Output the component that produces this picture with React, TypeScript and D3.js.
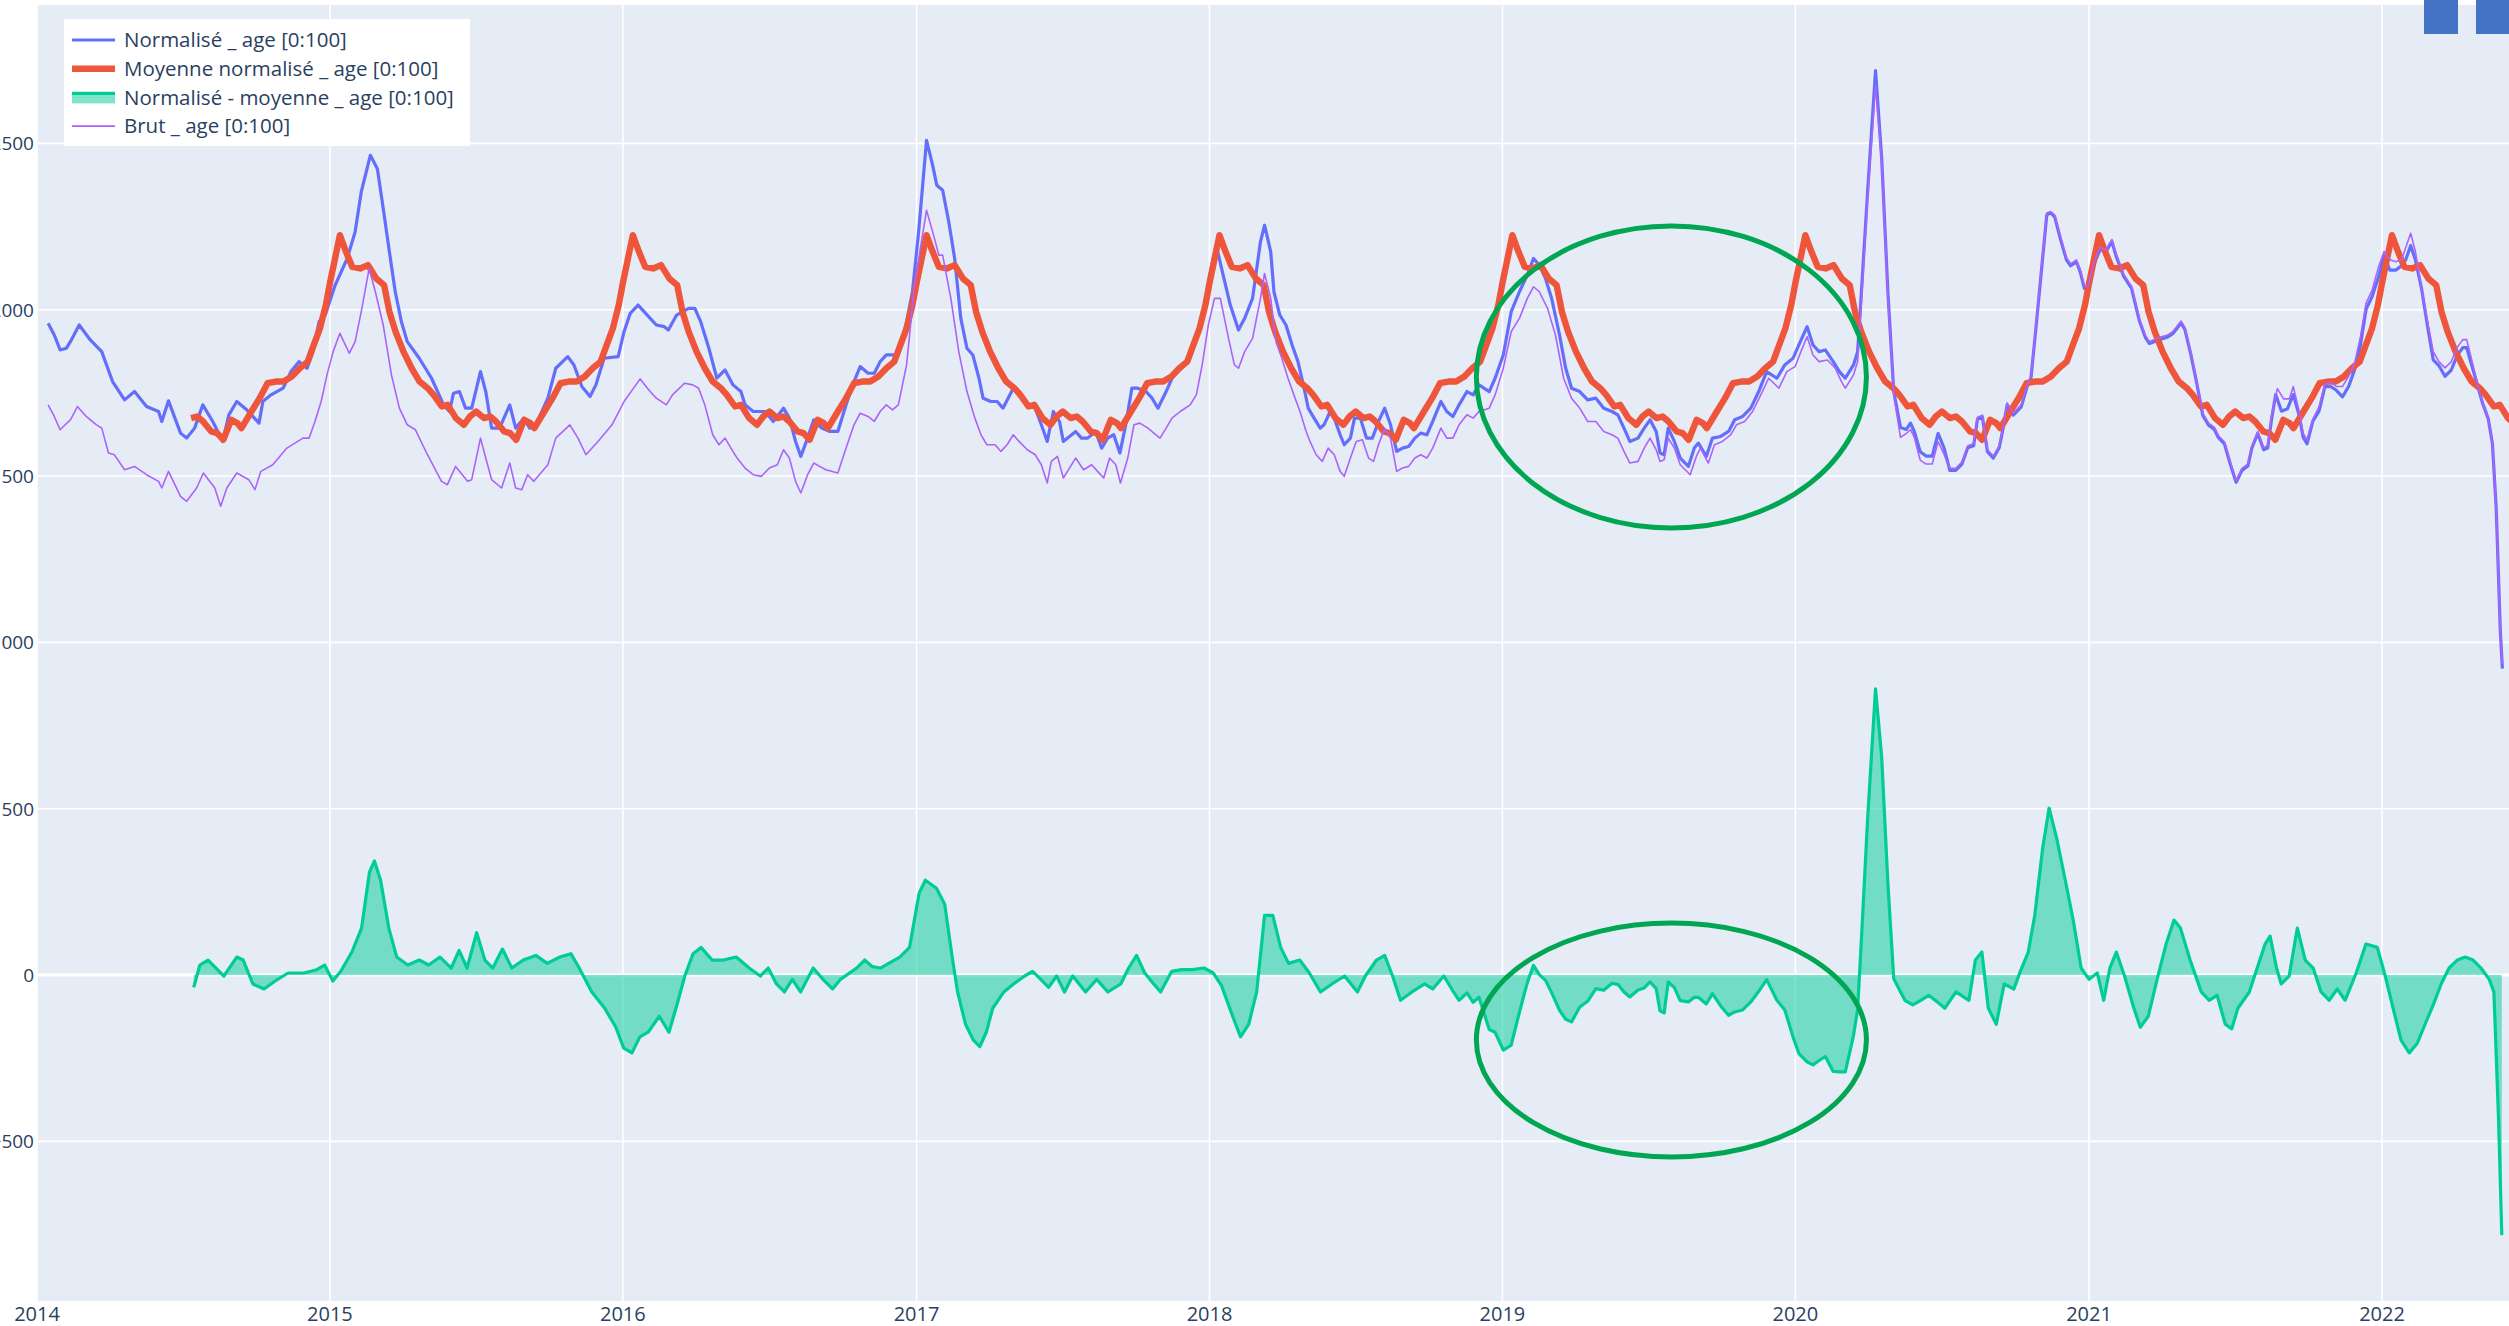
import React, { useEffect, useRef } from "react";
import * as d3 from "d3";

type Pt = [number, number]; // [decimal year, value]

const normalise: Pt[] = [
  [2014.038, 1959], [2014.059, 1924], [2014.079, 1879], [2014.1, 1884], [2014.114, 1904], [2014.144, 1954],
  [2014.182, 1909], [2014.221, 1874], [2014.258, 1784], [2014.299, 1729], [2014.333, 1754], [2014.374, 1709],
  [2014.415, 1694], [2014.426, 1664], [2014.449, 1726], [2014.49, 1629], [2014.511, 1614], [2014.538, 1644],
  [2014.566, 1714], [2014.6, 1664], [2014.634, 1604], [2014.655, 1684], [2014.682, 1724], [2014.716, 1699],
  [2014.758, 1659], [2014.771, 1724], [2014.799, 1744], [2014.84, 1764], [2014.867, 1814], [2014.895, 1844],
  [2014.922, 1824], [2014.942, 1874], [2014.963, 1964], [2014.984, 1984], [2015.018, 2074], [2015.059, 2154],
  [2015.086, 2234], [2015.107, 2354], [2015.138, 2464], [2015.162, 2424], [2015.182, 2304], [2015.203, 2174],
  [2015.223, 2054], [2015.244, 1964], [2015.264, 1904], [2015.305, 1854], [2015.347, 1794], [2015.388, 1714],
  [2015.408, 1694], [2015.422, 1749], [2015.442, 1754], [2015.463, 1704], [2015.484, 1704], [2015.514, 1814],
  [2015.532, 1754], [2015.552, 1644], [2015.579, 1644], [2015.614, 1714], [2015.634, 1644], [2015.662, 1674],
  [2015.682, 1644], [2015.703, 1654], [2015.744, 1734], [2015.771, 1824], [2015.812, 1859], [2015.833, 1834],
  [2015.86, 1769], [2015.888, 1739], [2015.908, 1774], [2015.936, 1854], [2015.984, 1859], [2016.004, 1934],
  [2016.025, 1989], [2016.052, 2014], [2016.087, 1980], [2016.114, 1954], [2016.141, 1949], [2016.155, 1939],
  [2016.183, 1984], [2016.224, 2004], [2016.245, 2004], [2016.265, 1964], [2016.293, 1884], [2016.32, 1794],
  [2016.348, 1819], [2016.375, 1774], [2016.402, 1754], [2016.416, 1714], [2016.444, 1694], [2016.485, 1694],
  [2016.512, 1664], [2016.547, 1704], [2016.567, 1674], [2016.588, 1604], [2016.606, 1559], [2016.629, 1614],
  [2016.65, 1669], [2016.677, 1644], [2016.705, 1634], [2016.732, 1634], [2016.76, 1714], [2016.787, 1784],
  [2016.808, 1829], [2016.835, 1809], [2016.856, 1809], [2016.876, 1844], [2016.897, 1864], [2016.938, 1864],
  [2016.966, 1964], [2016.986, 2054], [2017.007, 2234], [2017.034, 2509], [2017.055, 2434], [2017.069, 2374],
  [2017.089, 2359], [2017.11, 2264], [2017.13, 2154], [2017.151, 1974], [2017.172, 1884], [2017.192, 1864],
  [2017.213, 1794], [2017.227, 1734], [2017.254, 1724], [2017.275, 1724], [2017.295, 1704], [2017.33, 1764],
  [2017.35, 1754], [2017.378, 1719], [2017.405, 1704], [2017.426, 1654], [2017.446, 1604], [2017.467, 1694],
  [2017.488, 1664], [2017.501, 1604], [2017.543, 1634], [2017.563, 1614], [2017.584, 1614], [2017.611, 1634],
  [2017.632, 1584], [2017.652, 1614], [2017.673, 1624], [2017.694, 1569], [2017.714, 1654], [2017.735, 1764],
  [2017.755, 1764], [2017.783, 1754], [2017.804, 1734], [2017.824, 1704], [2017.852, 1754], [2017.872, 1794],
  [2017.913, 1834], [2017.934, 1864], [2017.955, 1914], [2017.982, 1994], [2018.003, 2114], [2018.023, 2194],
  [2018.044, 2114], [2018.071, 2014], [2018.099, 1939], [2018.12, 1974], [2018.147, 2034], [2018.174, 2204],
  [2018.188, 2254], [2018.209, 2174], [2018.22, 2054], [2018.24, 1984], [2018.261, 1954], [2018.282, 1894],
  [2018.302, 1844], [2018.323, 1764], [2018.337, 1704], [2018.357, 1674], [2018.378, 1644], [2018.391, 1654],
  [2018.412, 1694], [2018.426, 1674], [2018.446, 1624], [2018.46, 1594], [2018.481, 1614], [2018.495, 1674],
  [2018.515, 1674], [2018.536, 1614], [2018.556, 1614], [2018.577, 1664], [2018.598, 1704], [2018.618, 1654],
  [2018.639, 1574], [2018.659, 1584], [2018.68, 1589], [2018.701, 1614], [2018.721, 1629], [2018.742, 1624],
  [2018.762, 1664], [2018.79, 1724], [2018.81, 1694], [2018.831, 1679], [2018.852, 1714], [2018.879, 1754],
  [2018.9, 1744], [2018.92, 1774], [2018.955, 1754], [2018.975, 1794], [2019.003, 1864], [2019.03, 1994],
  [2019.058, 2054], [2019.085, 2104], [2019.106, 2154], [2019.126, 2134], [2019.147, 2094], [2019.168, 2034],
  [2019.195, 1924], [2019.216, 1824], [2019.236, 1764], [2019.264, 1754], [2019.291, 1729], [2019.319, 1734],
  [2019.346, 1704], [2019.374, 1694], [2019.394, 1684], [2019.415, 1644], [2019.435, 1604], [2019.463, 1614],
  [2019.484, 1644], [2019.504, 1669], [2019.525, 1634], [2019.538, 1569], [2019.552, 1564], [2019.566, 1644],
  [2019.587, 1604], [2019.607, 1554], [2019.635, 1529], [2019.655, 1584], [2019.669, 1599], [2019.696, 1559],
  [2019.717, 1614], [2019.745, 1619], [2019.772, 1634], [2019.793, 1669], [2019.82, 1679], [2019.848, 1704],
  [2019.875, 1754], [2019.902, 1814], [2019.937, 1794], [2019.964, 1834], [2019.992, 1854], [2020.012, 1894],
  [2020.04, 1949], [2020.06, 1894], [2020.081, 1874], [2020.102, 1879], [2020.129, 1844], [2020.15, 1814],
  [2020.17, 1794], [2020.198, 1834], [2020.212, 1874], [2020.225, 2054], [2020.246, 2354], [2020.273, 2719],
  [2020.294, 2454], [2020.315, 2054], [2020.335, 1754], [2020.358, 1646], [2020.378, 1640], [2020.392, 1659],
  [2020.405, 1634], [2020.425, 1573], [2020.445, 1560], [2020.466, 1560], [2020.486, 1628], [2020.506, 1585],
  [2020.526, 1517], [2020.546, 1517], [2020.567, 1536], [2020.587, 1585], [2020.607, 1591], [2020.62, 1671],
  [2020.637, 1677], [2020.654, 1573], [2020.674, 1554], [2020.694, 1585], [2020.708, 1646], [2020.721, 1714],
  [2020.742, 1683], [2020.769, 1708], [2020.789, 1769], [2020.802, 1794], [2020.816, 1917], [2020.836, 2101],
  [2020.856, 2285], [2020.869, 2291], [2020.883, 2279], [2020.903, 2211], [2020.923, 2150], [2020.937, 2132],
  [2020.957, 2144], [2020.97, 2113], [2020.984, 2064], [2020.997, 2064], [2021.017, 2138], [2021.038, 2181],
  [2021.058, 2175], [2021.078, 2205], [2021.092, 2162], [2021.118, 2101], [2021.145, 2064], [2021.172, 1966],
  [2021.192, 1917], [2021.206, 1898], [2021.24, 1910], [2021.266, 1917], [2021.287, 1929], [2021.314, 1960],
  [2021.327, 1941], [2021.347, 1867], [2021.367, 1782], [2021.388, 1683], [2021.408, 1653], [2021.428, 1640],
  [2021.441, 1616], [2021.462, 1597], [2021.482, 1536], [2021.502, 1481], [2021.522, 1517], [2021.542, 1530],
  [2021.556, 1585], [2021.576, 1628], [2021.596, 1579], [2021.61, 1585], [2021.623, 1671], [2021.637, 1745],
  [2021.657, 1695], [2021.677, 1702], [2021.697, 1745], [2021.717, 1683], [2021.731, 1616], [2021.744, 1597],
  [2021.764, 1665], [2021.785, 1695], [2021.805, 1769], [2021.825, 1769], [2021.845, 1757], [2021.865, 1738],
  [2021.886, 1769], [2021.906, 1818], [2021.926, 1892], [2021.946, 2003], [2021.966, 2039], [2021.987, 2095],
  [2022.007, 2162], [2022.027, 2119], [2022.047, 2119], [2022.067, 2132], [2022.081, 2150], [2022.098, 2193],
  [2022.114, 2150], [2022.135, 2064], [2022.155, 1953], [2022.175, 1849], [2022.195, 1831], [2022.215, 1800],
  [2022.236, 1818], [2022.256, 1861], [2022.276, 1886], [2022.289, 1886], [2022.303, 1843], [2022.323, 1782],
  [2022.343, 1720], [2022.363, 1671], [2022.377, 1597], [2022.39, 1401], [2022.404, 1033], [2022.411, 921],
];

const brut: Pt[] = [
  [2014.038, 1714], [2014.059, 1679], [2014.079, 1639], [2014.09, 1649], [2014.114, 1669], [2014.138, 1709],
  [2014.168, 1679], [2014.203, 1654], [2014.221, 1644], [2014.244, 1569], [2014.264, 1564], [2014.299, 1519],
  [2014.333, 1529], [2014.374, 1504], [2014.415, 1484], [2014.426, 1464], [2014.449, 1514], [2014.49, 1439],
  [2014.511, 1424], [2014.545, 1464], [2014.568, 1509], [2014.607, 1464], [2014.627, 1409], [2014.648, 1464],
  [2014.682, 1509], [2014.723, 1489], [2014.744, 1459], [2014.764, 1514], [2014.805, 1534], [2014.853, 1584],
  [2014.908, 1614], [2014.929, 1614], [2014.949, 1664], [2014.97, 1724], [2014.99, 1804], [2015.011, 1874],
  [2015.034, 1929], [2015.066, 1869], [2015.086, 1904], [2015.107, 1994], [2015.134, 2124], [2015.155, 2054],
  [2015.182, 1954], [2015.21, 1804], [2015.237, 1704], [2015.264, 1654], [2015.292, 1639], [2015.333, 1564],
  [2015.381, 1484], [2015.401, 1474], [2015.429, 1529], [2015.47, 1484], [2015.484, 1489], [2015.514, 1614],
  [2015.532, 1554], [2015.552, 1489], [2015.586, 1464], [2015.614, 1539], [2015.634, 1464], [2015.655, 1459],
  [2015.675, 1504], [2015.696, 1484], [2015.744, 1534], [2015.771, 1614], [2015.819, 1654], [2015.847, 1614],
  [2015.874, 1564], [2015.915, 1604], [2015.963, 1654], [2016.004, 1724], [2016.059, 1792], [2016.087, 1760],
  [2016.114, 1734], [2016.148, 1714], [2016.169, 1744], [2016.21, 1779], [2016.238, 1774], [2016.258, 1764],
  [2016.279, 1714], [2016.306, 1624], [2016.327, 1594], [2016.348, 1614], [2016.368, 1584], [2016.389, 1554],
  [2016.416, 1524], [2016.444, 1504], [2016.471, 1499], [2016.499, 1524], [2016.526, 1534], [2016.547, 1579],
  [2016.567, 1554], [2016.588, 1484], [2016.606, 1449], [2016.629, 1504], [2016.65, 1539], [2016.67, 1529],
  [2016.691, 1519], [2016.732, 1509], [2016.76, 1584], [2016.787, 1654], [2016.808, 1689], [2016.835, 1679],
  [2016.856, 1664], [2016.876, 1694], [2016.897, 1714], [2016.918, 1699], [2016.938, 1714], [2016.966, 1834],
  [2016.993, 2074], [2017.034, 2299], [2017.055, 2234], [2017.076, 2164], [2017.089, 2164], [2017.117, 2034],
  [2017.144, 1874], [2017.172, 1754], [2017.199, 1674], [2017.22, 1624], [2017.24, 1594], [2017.268, 1594],
  [2017.288, 1574], [2017.309, 1594], [2017.33, 1624], [2017.35, 1604], [2017.378, 1579], [2017.405, 1564],
  [2017.426, 1534], [2017.446, 1479], [2017.46, 1544], [2017.481, 1559], [2017.501, 1494], [2017.522, 1524],
  [2017.543, 1554], [2017.57, 1519], [2017.598, 1534], [2017.618, 1514], [2017.639, 1494], [2017.659, 1554],
  [2017.68, 1534], [2017.696, 1479], [2017.721, 1554], [2017.742, 1654], [2017.762, 1659], [2017.79, 1644],
  [2017.81, 1629], [2017.831, 1614], [2017.852, 1644], [2017.872, 1674], [2017.9, 1694], [2017.934, 1714],
  [2017.955, 1744], [2017.975, 1834], [2017.996, 1954], [2018.017, 2034], [2018.037, 2034], [2018.065, 1914],
  [2018.085, 1834], [2018.099, 1824], [2018.12, 1874], [2018.147, 1914], [2018.174, 2034], [2018.188, 2109],
  [2018.209, 2034], [2018.227, 1904], [2018.247, 1854], [2018.268, 1794], [2018.288, 1744], [2018.309, 1694],
  [2018.33, 1634], [2018.343, 1604], [2018.364, 1564], [2018.385, 1544], [2018.405, 1584], [2018.426, 1564],
  [2018.446, 1514], [2018.46, 1499], [2018.481, 1554], [2018.501, 1604], [2018.522, 1609], [2018.543, 1554],
  [2018.56, 1544], [2018.577, 1594], [2018.598, 1644], [2018.618, 1614], [2018.639, 1514], [2018.659, 1524],
  [2018.68, 1529], [2018.701, 1554], [2018.721, 1564], [2018.742, 1554], [2018.762, 1584], [2018.79, 1644],
  [2018.81, 1614], [2018.831, 1614], [2018.852, 1654], [2018.879, 1684], [2018.9, 1674], [2018.92, 1694],
  [2018.955, 1704], [2018.975, 1744], [2019.003, 1824], [2019.03, 1934], [2019.058, 1974], [2019.085, 2034],
  [2019.106, 2069], [2019.126, 2054], [2019.154, 2004], [2019.181, 1924], [2019.209, 1794], [2019.236, 1734],
  [2019.264, 1704], [2019.291, 1664], [2019.319, 1664], [2019.346, 1634], [2019.374, 1624], [2019.394, 1614],
  [2019.415, 1574], [2019.435, 1539], [2019.463, 1544], [2019.484, 1584], [2019.504, 1614], [2019.525, 1579],
  [2019.538, 1544], [2019.552, 1549], [2019.566, 1614], [2019.587, 1584], [2019.607, 1534], [2019.641, 1504],
  [2019.662, 1559], [2019.676, 1584], [2019.703, 1539], [2019.724, 1594], [2019.751, 1604], [2019.779, 1624],
  [2019.799, 1654], [2019.827, 1664], [2019.854, 1694], [2019.882, 1744], [2019.909, 1794], [2019.944, 1764],
  [2019.971, 1814], [2019.999, 1829], [2020.019, 1874], [2020.04, 1919], [2020.06, 1864], [2020.081, 1844],
  [2020.109, 1849], [2020.136, 1824], [2020.157, 1784], [2020.17, 1764], [2020.198, 1804], [2020.212, 1844],
  [2020.225, 2024], [2020.246, 2334], [2020.273, 2674], [2020.294, 2444], [2020.315, 2044], [2020.335, 1744],
  [2020.358, 1616], [2020.378, 1628], [2020.392, 1640], [2020.405, 1616], [2020.425, 1548], [2020.445, 1536],
  [2020.466, 1536], [2020.486, 1603], [2020.506, 1566], [2020.526, 1523], [2020.546, 1523], [2020.567, 1542],
  [2020.587, 1591], [2020.607, 1597], [2020.62, 1677], [2020.637, 1683], [2020.654, 1579], [2020.674, 1560],
  [2020.694, 1591], [2020.708, 1652], [2020.721, 1720], [2020.742, 1689], [2020.769, 1714], [2020.789, 1775],
  [2020.802, 1800], [2020.816, 1923], [2020.836, 2107], [2020.856, 2291], [2020.869, 2295], [2020.883, 2285],
  [2020.903, 2218], [2020.923, 2156], [2020.937, 2138], [2020.957, 2150], [2020.97, 2119], [2020.984, 2070],
  [2020.997, 2070], [2021.017, 2144], [2021.038, 2187], [2021.058, 2181], [2021.078, 2211], [2021.092, 2168],
  [2021.118, 2107], [2021.145, 2070], [2021.172, 1972], [2021.192, 1923], [2021.206, 1904], [2021.24, 1917],
  [2021.266, 1923], [2021.287, 1935], [2021.314, 1966], [2021.327, 1947], [2021.347, 1874], [2021.367, 1788],
  [2021.388, 1689], [2021.408, 1659], [2021.428, 1646], [2021.441, 1622], [2021.462, 1603], [2021.482, 1542],
  [2021.502, 1487], [2021.522, 1523], [2021.542, 1536], [2021.556, 1591], [2021.576, 1634], [2021.596, 1585],
  [2021.61, 1591], [2021.623, 1683], [2021.643, 1763], [2021.664, 1732], [2021.684, 1732], [2021.697, 1769],
  [2021.717, 1695], [2021.731, 1628], [2021.744, 1609], [2021.764, 1671], [2021.785, 1708], [2021.805, 1775],
  [2021.825, 1782], [2021.845, 1769], [2021.865, 1769], [2021.886, 1800], [2021.906, 1837], [2021.926, 1917],
  [2021.946, 2021], [2021.966, 2058], [2021.987, 2125], [2022.007, 2175], [2022.027, 2150], [2022.047, 2144],
  [2022.067, 2150], [2022.081, 2187], [2022.098, 2230], [2022.114, 2175], [2022.135, 2064], [2022.155, 1966],
  [2022.175, 1874], [2022.195, 1843], [2022.215, 1825], [2022.236, 1843], [2022.256, 1886], [2022.276, 1910],
  [2022.289, 1910], [2022.303, 1861], [2022.323, 1788], [2022.343, 1720], [2022.363, 1671], [2022.377, 1597],
  [2022.39, 1401], [2022.404, 1033], [2022.411, 934],
];

// weekly mean over one year: [fraction of year, value]
const moyenneProfile: Pt[] = [
  [0, 2080], [0.034, 2224], [0.055, 2174], [0.076, 2129], [0.103, 2124], [0.13, 2134], [0.158, 2094],
  [0.185, 2074], [0.203, 1994], [0.224, 1934], [0.251, 1874], [0.279, 1824], [0.306, 1784], [0.334, 1764],
  [0.354, 1744], [0.382, 1709], [0.402, 1714], [0.43, 1674], [0.457, 1654], [0.478, 1679], [0.499, 1694],
  [0.526, 1674], [0.547, 1679], [0.567, 1664], [0.595, 1634], [0.615, 1629], [0.636, 1609], [0.663, 1669],
  [0.684, 1659], [0.698, 1644], [0.732, 1694], [0.76, 1734], [0.787, 1779], [0.815, 1784], [0.842, 1784],
  [0.87, 1799], [0.897, 1824], [0.924, 1844], [0.945, 1894], [0.966, 1944], [0.986, 2014],
];
const moyenneStart = 2014.52;
const moyenneEnd = 2022.6;

const ecart: Pt[] = [
  [2014.535, -37], [2014.556, 30], [2014.584, 45], [2014.611, 21], [2014.638, -3], [2014.682, 54],
  [2014.704, 45], [2014.737, -27], [2014.775, -42], [2014.813, -18], [2014.857, 6], [2014.911, 6],
  [2014.955, 16], [2014.982, 30], [2015.01, -18], [2015.037, 11], [2015.075, 69], [2015.108, 141],
  [2015.135, 309], [2015.152, 343], [2015.173, 285], [2015.201, 141], [2015.228, 54], [2015.266, 30],
  [2015.305, 45], [2015.337, 30], [2015.376, 54], [2015.414, 21], [2015.441, 74], [2015.468, 21],
  [2015.501, 127], [2015.529, 45], [2015.556, 21], [2015.589, 78], [2015.621, 21], [2015.66, 45],
  [2015.703, 59], [2015.742, 35], [2015.785, 54], [2015.823, 64], [2015.851, 21], [2015.894, -51],
  [2015.938, -100], [2015.976, -157], [2016.003, -220], [2016.031, -234], [2016.058, -186], [2016.086, -172],
  [2016.124, -124], [2016.157, -172], [2016.184, -90], [2016.211, -3], [2016.239, 64], [2016.266, 83],
  [2016.304, 45], [2016.342, 45], [2016.386, 54], [2016.43, 21], [2016.468, -3], [2016.495, 21],
  [2016.523, -27], [2016.55, -51], [2016.577, -13], [2016.605, -51], [2016.648, 21], [2016.681, -13],
  [2016.714, -42], [2016.741, -13], [2016.796, 21], [2016.823, 45], [2016.85, 25], [2016.877, 21],
  [2016.905, 35], [2016.943, 54], [2016.976, 83], [2017.009, 247], [2017.03, 285], [2017.068, 261],
  [2017.096, 213], [2017.123, 45], [2017.14, -51], [2017.167, -148], [2017.194, -196], [2017.216, -215],
  [2017.238, -172], [2017.26, -100], [2017.298, -51], [2017.331, -27], [2017.369, -3], [2017.396, 11],
  [2017.424, -13], [2017.451, -37], [2017.478, -3], [2017.505, -51], [2017.533, -3], [2017.577, -51],
  [2017.615, -13], [2017.653, -51], [2017.697, -27], [2017.724, 21], [2017.751, 59], [2017.779, 6],
  [2017.806, -23], [2017.833, -51], [2017.871, 11], [2017.904, 16], [2017.942, 16], [2017.981, 21],
  [2018.013, 6], [2018.041, -32], [2018.079, -124], [2018.106, -186], [2018.134, -148], [2018.161, -51],
  [2018.188, 179], [2018.216, 179], [2018.243, 83], [2018.27, 35], [2018.308, 45], [2018.341, 6],
  [2018.379, -51], [2018.418, -27], [2018.461, -3], [2018.505, -51], [2018.532, -3], [2018.57, 45],
  [2018.598, 59], [2018.625, -3], [2018.652, -76], [2018.691, -51], [2018.734, -27], [2018.762, -42],
  [2018.8, -3], [2018.833, -51], [2018.852, -76], [2018.879, -54], [2018.9, -82], [2018.92, -67],
  [2018.955, -164], [2018.975, -172], [2019.003, -226], [2019.03, -211], [2019.058, -112], [2019.085, -23],
  [2019.106, 29], [2019.126, 1], [2019.147, -16], [2019.168, -53], [2019.195, -106], [2019.216, -133],
  [2019.236, -141], [2019.264, -96], [2019.291, -79], [2019.319, -41], [2019.346, -46], [2019.374, -25],
  [2019.394, -28], [2019.415, -51], [2019.435, -66], [2019.463, -45], [2019.484, -39], [2019.504, -21],
  [2019.525, -41], [2019.538, -108], [2019.552, -114], [2019.566, -21], [2019.587, -38], [2019.607, -77],
  [2019.635, -81], [2019.655, -67], [2019.669, -67], [2019.696, -87], [2019.717, -56], [2019.745, -93],
  [2019.772, -121], [2019.793, -111], [2019.82, -105], [2019.848, -81], [2019.875, -49], [2019.902, -14],
  [2019.937, -76], [2019.964, -105], [2019.992, -186], [2020.012, -236], [2020.04, -261], [2020.06, -270],
  [2020.081, -257], [2020.102, -245], [2020.129, -290], [2020.15, -291], [2020.17, -291], [2020.198, -182],
  [2020.212, -104], [2020.225, 109], [2020.246, 469], [2020.273, 860], [2020.294, 654], [2020.315, 276],
  [2020.335, -11], [2020.373, -76], [2020.4, -90], [2020.427, -76], [2020.454, -61], [2020.482, -80],
  [2020.509, -100], [2020.547, -51], [2020.591, -76], [2020.613, 45], [2020.635, 69], [2020.657, -100],
  [2020.684, -148], [2020.711, -27], [2020.744, -42], [2020.766, 11], [2020.793, 69], [2020.815, 179],
  [2020.842, 381], [2020.864, 502], [2020.891, 406], [2020.919, 285], [2020.946, 165], [2020.973, 21],
  [2021.0, -13], [2021.028, 6], [2021.05, -76], [2021.071, 21], [2021.093, 69], [2021.121, -3],
  [2021.153, -100], [2021.175, -157], [2021.202, -124], [2021.235, -3], [2021.263, 93], [2021.29, 165],
  [2021.312, 141], [2021.345, 45], [2021.383, -51], [2021.41, -76], [2021.437, -61], [2021.465, -148],
  [2021.487, -162], [2021.508, -100], [2021.547, -51], [2021.574, 21], [2021.601, 93], [2021.618, 117],
  [2021.64, 21], [2021.656, -27], [2021.683, -3], [2021.711, 141], [2021.738, 45], [2021.765, 21],
  [2021.792, -51], [2021.82, -76], [2021.847, -42], [2021.874, -76], [2021.912, 6], [2021.945, 93],
  [2021.984, 83], [2022.011, -3], [2022.038, -100], [2022.065, -196], [2022.093, -234], [2022.12, -206],
  [2022.147, -148], [2022.175, -90], [2022.202, -27], [2022.229, 21], [2022.257, 45], [2022.284, 54],
  [2022.311, 45], [2022.338, 21], [2022.366, -13], [2022.382, -51], [2022.398, -436], [2022.409, -782],
];

const yTicks = [-500, 0, 500, 1000, 1500, 2000, 2500];
const xTickYears = [2014, 2015, 2016, 2017, 2018, 2019, 2020, 2021, 2022];

const seriesNames = [
  "Normalisé _ age [0:100]",
  "Moyenne normalisé _ age [0:100]",
  "Normalisé - moyenne _ age [0:100]",
  "Brut _ age [0:100]",
];

// hand-drawn highlight ellipses: [t0, t1, vTop, vBottom]
const highlights: [number, number, number, number][] = [
  [2018.911, 2020.242, 2252, 1344],
  [2018.911, 2020.242, 156, -547],
];

const toDate = (t: number) => {
  const yr = Math.floor(t);
  const a = Date.UTC(yr, 0, 1);
  const b = Date.UTC(yr + 1, 0, 1);
  return new Date(a + (t - yr) * (b - a));
};

const App: React.FC = () => {
  const svgRef = useRef<SVGSVGElement | null>(null);

  useEffect(() => {
    if (!svgRef.current) return;
    const width = 2509;
    const height = 1326;
    const plot = { left: 37, top: 5, right: 2540, bottom: 1301 };
    const font = "'Open Sans', Verdana, Arial, sans-serif";

    const svg = d3.select(svgRef.current);
    svg.selectAll("*").remove();
    svg.attr("width", width).attr("height", height);

    const x = d3
      .scaleUtc()
      .domain([toDate(2014), toDate(2022)])
      .range([plot.left, 2382]);
    const y = d3.scaleLinear().domain([-980, 2916]).range([plot.bottom, plot.top]);

    svg.append("rect").attr("width", width).attr("height", height).attr("fill", "#fff");
    svg
      .append("rect")
      .attr("x", plot.left)
      .attr("y", plot.top)
      .attr("width", plot.right - plot.left)
      .attr("height", plot.bottom - plot.top)
      .attr("fill", "#e5ecf6");

    svg
      .append("defs")
      .append("clipPath")
      .attr("id", "plot-clip")
      .append("rect")
      .attr("x", plot.left)
      .attr("y", plot.top)
      .attr("width", plot.right - plot.left)
      .attr("height", plot.bottom - plot.top);

    // grid
    const grid = svg.append("g");
    grid
      .selectAll("line.v")
      .data(xTickYears)
      .enter()
      .append("line")
      .attr("x1", (d) => x(toDate(d)))
      .attr("x2", (d) => x(toDate(d)))
      .attr("y1", plot.top)
      .attr("y2", plot.bottom)
      .attr("stroke", "#fff")
      .attr("stroke-width", 1.6);
    grid
      .selectAll("line.h")
      .data(yTicks)
      .enter()
      .append("line")
      .attr("x1", plot.left)
      .attr("x2", plot.right)
      .attr("y1", (d) => y(d))
      .attr("y2", (d) => y(d))
      .attr("stroke", "#fff")
      .attr("stroke-width", (d) => (d === 0 ? 3.2 : 1.6));

    // tick labels (the screenshot is cropped on the left, so the y labels run off the edge)
    svg
      .append("g")
      .selectAll("text")
      .data(yTicks)
      .enter()
      .append("text")
      .attr("x", 34)
      .attr("y", (d) => y(d))
      .attr("dy", "0.36em")
      .attr("text-anchor", "end")
      .attr("font-family", font)
      .attr("font-size", 19)
      .attr("fill", "#2a3f5f")
      .text((d) => (d < 0 ? "\u2212" + Math.abs(d) : String(d)));
    svg
      .append("g")
      .selectAll("text")
      .data(xTickYears)
      .enter()
      .append("text")
      .attr("x", (d) => x(toDate(d)))
      .attr("y", 1321)
      .attr("text-anchor", "middle")
      .attr("font-family", font)
      .attr("font-size", 20)
      .attr("fill", "#2a3f5f")
      .text((d) => String(d));

    const moyenne: Pt[] = [];
    for (let yr = 2014; yr <= 2022; yr++) {
      for (const [f, v] of moyenneProfile) {
        const t = yr + f;
        if (t >= moyenneStart && t <= moyenneEnd) moyenne.push([t, v]);
      }
    }

    const line = d3
      .line<Pt>()
      .x((d) => x(toDate(d[0])))
      .y((d) => y(d[1]));
    const area = d3
      .area<Pt>()
      .x((d) => x(toDate(d[0])))
      .y0(y(0))
      .y1((d) => y(d[1]));

    const g = svg.append("g").attr("clip-path", "url(#plot-clip)");
    g.append("path")
      .attr("d", line(normalise)!)
      .attr("fill", "none")
      .attr("stroke", "#636efa")
      .attr("stroke-width", 3.2)
      .attr("stroke-linejoin", "round");
    g.append("path")
      .attr("d", line(moyenne)!)
      .attr("fill", "none")
      .attr("stroke", "#ef553b")
      .attr("stroke-width", 6.4)
      .attr("stroke-linejoin", "round");
    g.append("path").attr("d", area(ecart)!).attr("fill", "rgba(0,204,150,0.5)");
    g.append("path")
      .attr("d", line(ecart)!)
      .attr("fill", "none")
      .attr("stroke", "#00cc96")
      .attr("stroke-width", 3.2)
      .attr("stroke-linejoin", "round");
    g.append("path")
      .attr("d", line(brut)!)
      .attr("fill", "none")
      .attr("stroke", "#ab63fa")
      .attr("stroke-width", 1.6)
      .attr("stroke-linejoin", "round");

    // highlight ellipses
    svg
      .append("g")
      .selectAll("ellipse")
      .data(highlights)
      .enter()
      .append("ellipse")
      .attr("cx", (d) => (x(toDate(d[0])) + x(toDate(d[1]))) / 2)
      .attr("cy", (d) => (y(d[2]) + y(d[3])) / 2)
      .attr("rx", (d) => (x(toDate(d[1])) - x(toDate(d[0]))) / 2)
      .attr("ry", (d) => (y(d[3]) - y(d[2])) / 2)
      .attr("fill", "none")
      .attr("stroke", "#00a651")
      .attr("stroke-width", 5);

    // legend
    const legend = svg.append("g");
    legend
      .append("rect")
      .attr("x", 64)
      .attr("y", 19)
      .attr("width", 406)
      .attr("height", 127)
      .attr("fill", "#fff");
    const rowY = (i: number) => 40 + i * 28.7;
    const items = legend
      .selectAll("g.item")
      .data(seriesNames)
      .enter()
      .append("g")
      .attr("transform", (_, i) => `translate(0, ${rowY(i)})`);
    items.each(function (_, i) {
      const it = d3.select(this);
      if (i === 2) {
        it.append("rect")
          .attr("x", 72)
          .attr("y", -5)
          .attr("width", 43)
          .attr("height", 11)
          .attr("fill", "rgba(0,204,150,0.5)");
        it.append("line")
          .attr("x1", 72)
          .attr("x2", 115)
          .attr("y1", -4)
          .attr("y2", -4)
          .attr("stroke", "#00cc96")
          .attr("stroke-width", 3.2);
      } else {
        const colors = ["#636efa", "#ef553b", "", "#ab63fa"];
        const widths = [3.2, 6.4, 0, 1.6];
        it.append("line")
          .attr("x1", 72)
          .attr("x2", 115)
          .attr("stroke", colors[i])
          .attr("stroke-width", widths[i]);
      }
    });
    items
      .append("text")
      .attr("x", 124)
      .attr("dy", "0.36em")
      .attr("font-family", font)
      .attr("font-size", 20.5)
      .attr("fill", "#2a3f5f")
      .text((d) => d);

    // blue blocks at the top right corner of the screenshot
    svg
      .append("g")
      .selectAll("rect")
      .data([2424, 2476])
      .enter()
      .append("rect")
      .attr("x", (d) => d)
      .attr("y", 0)
      .attr("width", 34)
      .attr("height", 34)
      .attr("fill", "#4472c4");
  }, []);

  return (
    <svg
      ref={svgRef}
      style={{ position: "absolute", left: 0, top: 0, display: "block" }}
    ></svg>
  );
};

export default App;
